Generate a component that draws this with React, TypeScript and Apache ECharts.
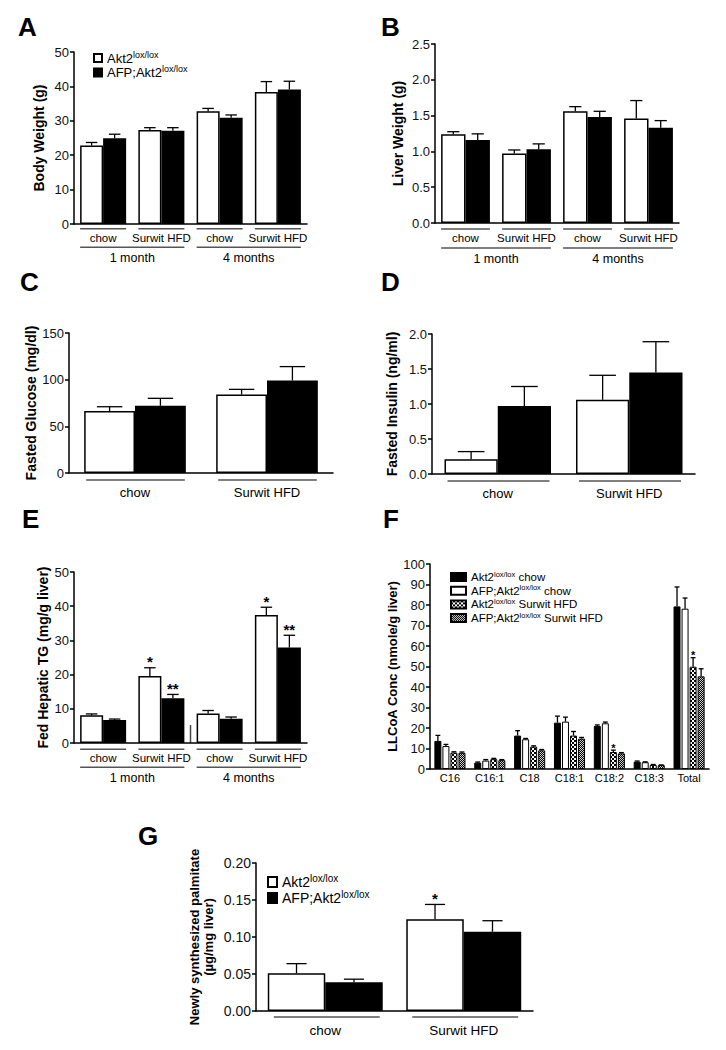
import React, { useEffect, useRef } from "react";
import * as echarts from "echarts";

const FONT = "'Liberation Sans', Arial, Helvetica, sans-serif";

// ---------------- data ----------------
const dietAgeCats = ["chow", "Surwit HFD", "chow", "Surwit HFD"];
const ageGroups = ["1 month", "4 months"];
const dietCats = ["chow", "Surwit HFD"];
const seriesCtrl = "Akt2 lox/lox";
const seriesKo = "AFP;Akt2 lox/lox";

const bodyWeightCtrl = [22.8, 27.3, 32.8, 38.4];
const bodyWeightCtrlSem = [0.9, 0.7, 0.8, 3.0];
const bodyWeightKo = [24.9, 27.1, 30.9, 39.1];
const bodyWeightKoSem = [1.2, 0.9, 0.8, 2.4];

const liverWeightCtrl = [1.24, 0.97, 1.56, 1.46];
const liverWeightCtrlSem = [0.035, 0.05, 0.065, 0.25];
const liverWeightKo = [1.16, 1.03, 1.48, 1.33];
const liverWeightKoSem = [0.085, 0.075, 0.08, 0.1];

const glucoseCtrl = [66.5, 84];
const glucoseCtrlSem = [4.5, 5.6];
const glucoseKo = [72, 99];
const glucoseKoSem = [8, 15];

const insulinCtrl = [0.21, 1.06];
const insulinCtrlSem = [0.11, 0.35];
const insulinKo = [0.97, 1.45];
const insulinKoSem = [0.28, 0.44];

const tgCtrl = [8.1, 19.6, 8.6, 37.4];
const tgCtrlSem = [0.4, 2.4, 0.9, 2.3];
const tgCtrlStars = ["", "*", "", "*"];
const tgKo = [6.7, 13.1, 7.1, 27.9];
const tgKoSem = [0.3, 1.1, 0.5, 3.6];
const tgKoStars = ["", "**", "", "**"];

const llcoaCats = ["C16", "C16:1", "C18", "C18:1", "C18:2", "C18:3", "Total"];
const llcoaCtrlChowName = "Akt2 lox/lox chow";
const llcoaKoChowName = "AFP;Akt2 lox/lox chow";
const llcoaCtrlHfdName = "Akt2 lox/lox Surwit HFD";
const llcoaKoHfdName = "AFP;Akt2 lox/lox Surwit HFD";
const llcoaCtrlChow = [13.7, 3.1, 16.3, 22.6, 21.0, 3.6, 79.3];
const llcoaCtrlChowSem = [2.7, 0.3, 2.4, 3.2, 0.5, 0.3, 9.5];
const llcoaKoChow = [11.2, 4.1, 14.5, 23.1, 22.3, 3.3, 78.2];
const llcoaKoChowSem = [0.8, 0.5, 0.4, 2.2, 0.6, 0.2, 5.2];
const llcoaCtrlHfd = [8.0, 4.8, 10.9, 16.3, 8.3, 2.0, 49.9];
const llcoaCtrlHfdSem = [0.4, 0.4, 0.4, 2.0, 0.9, 0.2, 4.4];
const llcoaCtrlHfdStars = ["", "", "", "", "*", "", "*"];
const llcoaKoHfd = [7.9, 4.3, 9.1, 14.8, 7.6, 1.9, 45.2];
const llcoaKoHfdSem = [0.4, 0.3, 0.4, 0.6, 0.4, 0.1, 3.7];

const palmCtrl = [0.051, 0.124];
const palmCtrlSem = [0.013, 0.02];
const palmCtrlStars = ["", "*"];
const palmKo = [0.039, 0.107];
const palmKoSem = [0.004, 0.015];

// ---------------- helpers ----------------
function makePattern(kind: "coarse" | "fine") {
  const c = document.createElement("canvas");
  const s = kind === "coarse" ? 4 : 2;
  const cell = s / 2;
  c.width = s;
  c.height = s;
  const ctx = c.getContext("2d")!;
  ctx.fillStyle = "#000";
  ctx.fillRect(0, 0, s, s);
  ctx.fillStyle = kind === "coarse" ? "#fff" : "#d0d0d0";
  ctx.fillRect(0, 0, cell, cell);
  ctx.fillRect(cell, cell, cell, cell);
  return { image: c, repeat: "repeat", imageWidth: s, imageHeight: s } as any;
}

function supLabel(name: string) {
  const idx = name.indexOf(" lox/lox");
  if (idx < 0) return `{a|${name}}`;
  const pre = name.slice(0, idx);
  const post = name.slice(idx + 8);
  return `{a|${pre}}{s|lox/lox}` + (post ? `{a|${post}}` : "");
}

function errorSeries(
  xi: number,
  yi: number,
  values: number[],
  sem: number[],
  stars: string[] | undefined,
  k: number,
  n: number,
  catGap: number,
  barGap: number,
  capFrac: number,
  starSize: number,
  starLift: number
) {
  return {
    type: "custom",
    xAxisIndex: xi,
    yAxisIndex: yi,
    silent: true,
    z: 5,
    data: values.map((v, i) => [i, v, v + sem[i]]),
    encode: { x: 0, y: 1 },
    renderItem: (params: any, api: any) => {
      const i = api.value(0);
      const v = api.value(1);
      const top = api.value(2);
      const band = api.size([1, 0])[0];
      const w = (band * (1 - catGap)) / (n + (n - 1) * barGap);
      const total = n * w + (n - 1) * barGap * w;
      const c0 = api.coord([i, 0])[0];
      const cx = c0 - total / 2 + k * w * (1 + barGap) + w / 2;
      const y0 = api.coord([i, v])[1];
      const y1 = api.coord([i, top])[1];
      const half = (w * capFrac) / 2;
      const children: any[] = [
        { type: "line", shape: { x1: cx, y1: y0, x2: cx, y2: y1 }, style: { stroke: "#000", lineWidth: 1.3 } },
        { type: "line", shape: { x1: cx - half, y1: y1, x2: cx + half, y2: y1 }, style: { stroke: "#000", lineWidth: 1.3 } },
      ];
      const star = stars ? stars[i] : "";
      if (star) {
        children.push({
          type: "text",
          x: cx,
          y: y1 - starLift,
          style: {
            text: star,
            fill: "#000",
            font: `bold ${starSize}px ${FONT}`,
            align: "center",
            verticalAlign: "middle",
            textAlign: "center",
            textVerticalAlign: "middle",
          },
        });
      }
      return { type: "group", children };
    },
  };
}

function buildOption() {
  const coarse = makePattern("coarse");
  const fine = makePattern("fine");

  const panels: any[] = [
    {
      letter: "A", letterPos: [18, 26.5],
      grid: { left: 74, top: 52, width: 233, height: 172 },
      yMax: 50, yInterval: 10, dec: 0, yName: "Body Weight (g)", nameGap: 28, nameSize: 14,
      cats: dietAgeCats, groups: ageGroups, catGap: 0.21, barGap: 0,
      labelSize: 11.5, labelMargin: 7.5, groupSize: 12.5, groupMargin: 27.5,
      lineOff: 4.7, groupLineOff: 23.3, lineInset: 0, capFrac: 0.5,
      series: [
        { name: seriesCtrl, values: bodyWeightCtrl, sem: bodyWeightCtrlSem, fill: "#fff" },
        { name: seriesKo, values: bodyWeightKo, sem: bodyWeightKoSem, fill: "#000" },
      ],
    },
    {
      letter: "B", letterPos: [381, 26.5],
      grid: { left: 435, top: 44, width: 244, height: 179 },
      yMax: 2.5, yInterval: 0.5, dec: 1, yName: "Liver Weight (g)", nameGap: 30, nameSize: 14,
      cats: dietAgeCats, groups: ageGroups, catGap: 0.2, barGap: 0,
      labelSize: 11.5, labelMargin: 9, groupSize: 12.5, groupMargin: 29.5,
      lineOff: 6, groupLineOff: 25, lineInset: 0, capFrac: 0.5,
      series: [
        { name: seriesCtrl, values: liverWeightCtrl, sem: liverWeightCtrlSem, fill: "#fff" },
        { name: seriesKo, values: liverWeightKo, sem: liverWeightKoSem, fill: "#000" },
      ],
    },
    {
      letter: "C", letterPos: [20, 281.5],
      grid: { left: 69, top: 333, width: 264, height: 140 },
      yMax: 150, yInterval: 50, dec: 0, yName: "Fasted Glucose (mg/dl)", nameGap: 30, nameSize: 14,
      cats: dietCats, catGap: 0.23, barGap: 0,
      labelSize: 13, labelMargin: 12.5, lineOff: 7, lineInset: 2, capFrac: 0.5,
      series: [
        { name: seriesCtrl, values: glucoseCtrl, sem: glucoseCtrlSem, fill: "#fff" },
        { name: seriesKo, values: glucoseKo, sem: glucoseKoSem, fill: "#000" },
      ],
    },
    {
      letter: "D", letterPos: [381, 281.5],
      grid: { left: 432, top: 334, width: 263, height: 140 },
      yMax: 2, yInterval: 0.5, dec: 1, yName: "Fasted Insulin (ng/ml)", nameGap: 33, nameSize: 14,
      cats: dietCats, catGap: 0.19, barGap: 0,
      labelSize: 13, labelMargin: 12.5, lineOff: 7, lineInset: 3, capFrac: 0.5,
      series: [
        { name: seriesCtrl, values: insulinCtrl, sem: insulinCtrlSem, fill: "#fff" },
        { name: seriesKo, values: insulinKo, sem: insulinKoSem, fill: "#000" },
      ],
    },
    {
      letter: "E", letterPos: [22, 518.5],
      grid: { left: 74, top: 572, width: 233, height: 171 },
      yMax: 50, yInterval: 10, dec: 0, yName: "Fed Hepatic TG (mg/g liver)", nameGap: 24, nameSize: 14,
      cats: dietAgeCats, groups: ageGroups, catGap: 0.21, barGap: 0,
      labelSize: 11.5, labelMargin: 8.5, groupSize: 12.5, groupMargin: 28.5,
      lineOff: 6.3, groupLineOff: 24.3, lineInset: 0, capFrac: 0.5, breakMark: true,
      starSize: 15, starLift: 6,
      series: [
        { name: seriesCtrl, values: tgCtrl, sem: tgCtrlSem, fill: "#fff", stars: tgCtrlStars },
        { name: seriesKo, values: tgKo, sem: tgKoSem, fill: "#000", stars: tgKoStars },
      ],
    },
    {
      letter: "F", letterPos: [383, 518.5],
      grid: { left: 430, top: 564, width: 279, height: 205 },
      yMax: 100, yInterval: 10, dec: 0, yName: "LLCoA Conc (nmole/g liver)", nameGap: 26, nameSize: 13,
      cats: llcoaCats, catGap: 0.22, barGap: 0.15, borderWidth: 1,
      labelSize: 11, labelMargin: 3.5, noLines: true, capFrac: 0.7,
      starSize: 11, starLift: 2.5,
      series: [
        { name: llcoaCtrlChowName, values: llcoaCtrlChow, sem: llcoaCtrlChowSem, fill: "#000" },
        { name: llcoaKoChowName, values: llcoaKoChow, sem: llcoaKoChowSem, fill: "#fff" },
        { name: llcoaCtrlHfdName, values: llcoaCtrlHfd, sem: llcoaCtrlHfdSem, fill: coarse, stars: llcoaCtrlHfdStars },
        { name: llcoaKoHfdName, values: llcoaKoHfd, sem: llcoaKoHfdSem, fill: fine },
      ],
    },
    {
      letter: "G", letterPos: [138, 836],
      grid: { left: 256, top: 863, width: 277, height: 148 },
      yMax: 0.2, yInterval: 0.05, dec: 2, yName: "Newly synthesized palmitate\n(µg/mg liver)", nameGap: 41, nameSize: 13,
      yLabelSize: 14,
      cats: dietCats, catGap: 0.17, barGap: 0,
      labelSize: 13.5, labelMargin: 12, lineOff: 6, lineInset: 6, capFrac: 0.35,
      starSize: 15, starLift: 6,
      series: [
        { name: seriesCtrl, values: palmCtrl, sem: palmCtrlSem, fill: "#fff", stars: palmCtrlStars },
        { name: seriesKo, values: palmKo, sem: palmKoSem, fill: "#000" },
      ],
    },
  ];

  const grid: any[] = [];
  const xAxis: any[] = [];
  const yAxis: any[] = [];
  const series: any[] = [];
  const graphic: any[] = [];
  const groupLineStyle = { stroke: "#555", lineWidth: 1.5 };

  panels.forEach((p, gi) => {
    grid.push({ ...p.grid });
    const xi = xAxis.length;
    xAxis.push({
      type: "category",
      gridIndex: gi,
      data: p.cats,
      position: "bottom",
      axisLine: { show: true, onZero: false, lineStyle: { color: "#000", width: 1.5 } },
      axisTick: { show: false },
      splitLine: { show: false },
      axisLabel: { interval: 0, margin: p.labelMargin, fontSize: p.labelSize, color: "#000", fontFamily: FONT },
    });
    if (p.groups) {
      xAxis.push({
        type: "category",
        gridIndex: gi,
        data: p.groups,
        position: "bottom",
        axisLine: { show: false },
        axisTick: { show: false },
        splitLine: { show: false },
        axisLabel: { interval: 0, margin: p.groupMargin, fontSize: p.groupSize, color: "#000", fontFamily: FONT },
      });
    }
    const yi = yAxis.length;
    yAxis.push({
      type: "value",
      gridIndex: gi,
      min: 0,
      max: p.yMax,
      interval: p.yInterval,
      axisLine: { show: true, lineStyle: { color: "#000", width: 1.5 } },
      axisTick: { show: true, length: 4, lineStyle: { color: "#000", width: 1.5 } },
      splitLine: { show: false },
      axisLabel: {
        margin: 5,
        fontSize: p.yLabelSize || 13,
        color: "#111",
        fontFamily: FONT,
        formatter: (v: number) => v.toFixed(p.dec),
      },
      name: p.yName,
      nameLocation: "middle",
      nameGap: p.nameGap,
      nameTextStyle: { fontWeight: "bold", fontSize: p.nameSize, color: "#000", fontFamily: FONT, lineHeight: 14 },
    });

    const n = p.series.length;
    p.series.forEach((s: any) => {
      series.push({
        type: "bar",
        name: s.name,
        xAxisIndex: xi,
        yAxisIndex: yi,
        data: s.values,
        barCategoryGap: `${p.catGap * 100}%`,
        barGap: `${p.barGap * 100}%`,
        itemStyle: { color: s.fill, borderColor: "#000", borderWidth: p.borderWidth ?? 1.5 },
        silent: true,
        z: 2,
      });
    });
    p.series.forEach((s: any, k: number) => {
      series.push(
        errorSeries(xi, yi, s.values, s.sem, s.stars, k, n, p.catGap, p.barGap, p.capFrac, p.starSize || 14, p.starLift || 6)
      );
    });

    // panel letter
    graphic.push({
      type: "text",
      x: p.letterPos[0],
      y: p.letterPos[1],
      style: {
        text: p.letter,
        font: `bold 26px ${FONT}`,
        fill: "#000",
        textVerticalAlign: "middle",
        verticalAlign: "middle",
      },
    });

    // bracket lines under category labels
    const g = p.grid;
    const band = g.width / p.cats.length;
    const pad = (band * p.catGap) / 2;
    const axisY = g.top + g.height;
    if (!p.noLines) {
      p.cats.forEach((_: string, i: number) => {
        graphic.push({
          type: "line",
          shape: {
            x1: g.left + i * band + pad + p.lineInset,
            y1: axisY + p.lineOff,
            x2: g.left + (i + 1) * band - pad - p.lineInset / 2,
            y2: axisY + p.lineOff,
          },
          style: groupLineStyle,
        });
      });
    }
    if (p.groups) {
      p.groups.forEach((_: string, j: number) => {
        graphic.push({
          type: "line",
          shape: {
            x1: g.left + 2 * j * band + pad,
            y1: axisY + p.groupLineOff,
            x2: g.left + (2 * j + 2) * band - pad,
            y2: axisY + p.groupLineOff,
          },
          style: groupLineStyle,
        });
      });
    }
    if (p.breakMark) {
      graphic.push({
        type: "line",
        shape: { x1: g.left + 2 * band, y1: axisY - 18, x2: g.left + 2 * band, y2: axisY },
        style: { stroke: "#444", lineWidth: 1.5 },
      });
    }
  });

  const legendText = (size: number, sup: number, lh: number, supLh: number) => ({
    color: "#000",
    fontFamily: FONT,
    rich: {
      a: { fontSize: size, lineHeight: lh, color: "#000", fontFamily: FONT },
      s: { fontSize: sup, lineHeight: supLh, verticalAlign: "top", color: "#000", fontFamily: FONT },
    },
  });

  const legend = [
    {
      data: [seriesCtrl, seriesKo],
      left: 93, top: 50, orient: "vertical", padding: 0, itemGap: 0,
      itemWidth: 8, itemHeight: 8, icon: "rect", selectedMode: false,
      formatter: supLabel,
      textStyle: legendText(13, 9, 16, 6),
    },
    {
      data: [llcoaCtrlChowName, llcoaKoChowName, llcoaCtrlHfdName, llcoaKoHfdName],
      left: 450, top: 570, orient: "vertical", padding: 0, itemGap: 0.7,
      itemWidth: 15, itemHeight: 8, icon: "rect", selectedMode: false,
      formatter: supLabel,
      textStyle: legendText(11.5, 7.5, 14, 5),
    },
    {
      data: [seriesCtrl, seriesKo],
      left: 267, top: 873, orient: "vertical", padding: 0, itemGap: 0,
      itemWidth: 9, itemHeight: 10, icon: "rect", selectedMode: false,
      formatter: supLabel,
      textStyle: legendText(14, 10, 18, 7),
    },
  ];

  return {
    animation: false,
    backgroundColor: "#fff",
    textStyle: { fontFamily: FONT },
    grid,
    xAxis,
    yAxis,
    legend,
    series,
    graphic: { elements: graphic },
  };
}

export default function App() {
  const ref = useRef<HTMLDivElement>(null);
  useEffect(() => {
    if (!ref.current) return;
    const chart = echarts.init(ref.current, null, { renderer: "svg" });
    chart.setOption(buildOption() as any);
    return () => chart.dispose();
  }, []);
  return (
    <div
      ref={ref}
      style={{ position: "absolute", left: 0, top: 0, width: 726, height: 1050, background: "#fff" }}
    />
  );
}
